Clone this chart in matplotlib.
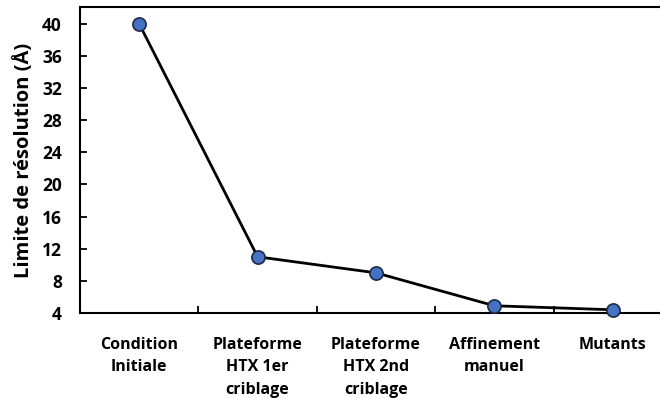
import matplotlib.pyplot as plt
from matplotlib.ticker import FixedLocator

categories = ["Condition\nInitiale", "Plateforme\nHTX 1er\ncriblage",
              "Plateforme\nHTX 2nd\ncriblage", "Affinement\nmanuel", "Mutants"]
resolution = [40, 11, 9, 4.9, 4.4]
y_ticks = [4, 8, 12, 16, 20, 24, 28, 32, 36, 40]

plt.rcParams['font.family'] = ['Open Sans', 'DejaVu Sans']


def main():
    fig = plt.figure(figsize=(6.6, 3.99), dpi=100)
    # the right edge of the plot area is cut off in the original
    ax = fig.add_axes([80 / 660, 86 / 399, 592 / 660, 306 / 399])

    x = list(range(len(categories)))
    ax.plot(x, resolution, color='black', lw=2, marker='o', ms=9.5,
            markerfacecolor='#4472C4', markeredgecolor='#1F2A44', mew=1.2,
            clip_on=False, zorder=3)

    ax.set_xlim(-0.5, len(categories) - 0.5)
    ax.set_ylim(4, 42.1)
    ax.set_yticks(y_ticks)
    ax.set_xticks(x)
    ax.set_xticklabels(categories, fontweight='bold', fontsize=11.5, linespacing=1.55)
    ax.xaxis.set_minor_locator(FixedLocator([i + 0.5 for i in x[:-1]]))
    ax.tick_params(axis='x', which='major', length=0, pad=17)
    ax.tick_params(axis='x', which='minor', direction='in', length=5, width=1.3)
    ax.tick_params(axis='y', direction='in', length=5, width=1.3, labelsize=12.5, pad=13)
    for lbl in ax.get_yticklabels():
        lbl.set_fontweight('bold')

    ax.set_ylabel("Limite de résolution (Å)", fontsize=14.5, fontweight='bold', labelpad=6)
    for s in ax.spines.values():
        s.set_linewidth(1.5)

    fig.savefig("out.png", dpi=100)


if __name__ == "__main__":
    main()
